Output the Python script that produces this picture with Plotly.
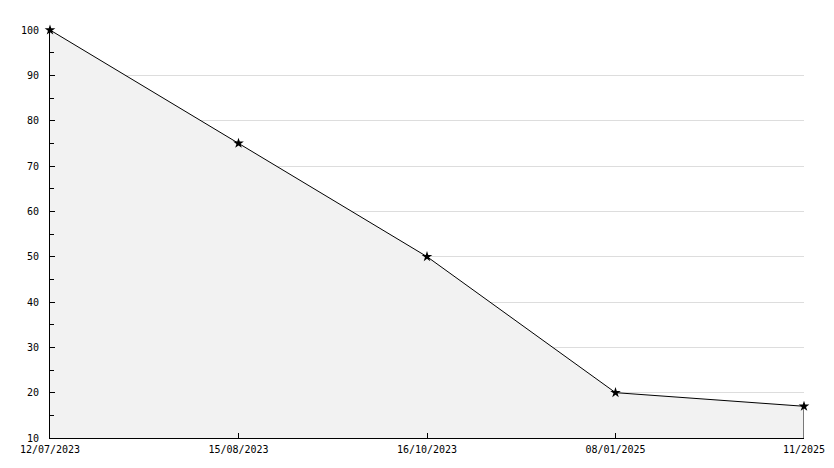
import plotly.graph_objects as go

dates = ["12/07/2023", "15/08/2023", "16/10/2023", "08/01/2025", "11/2025"]
values = [100, 75, 50, 20, 17]
y_min, y_max = 10, 100

fig = go.Figure()
fig.add_trace(go.Scatter(
    x=dates, y=values, mode="lines+markers",
    fill="tozeroy", fillcolor="#f2f2f2",
    line=dict(color="black", width=1),
    marker=dict(symbol="star", size=8, color="black"),
    hoverinfo="x+y", showlegend=False, cliponaxis=False,
))
# right edge outline of the filled area
fig.add_trace(go.Scatter(
    x=[dates[-1], dates[-1]], y=[y_min, values[-1]], mode="lines",
    line=dict(color="black", width=1), hoverinfo="skip", showlegend=False,
    cliponaxis=False,
))

font = dict(family="DejaVu Sans Mono, monospace", size=10, color="black")
fig.update_layout(
    width=834, height=468,
    margin=dict(l=50, r=30, t=30, b=30),
    plot_bgcolor="white", paper_bgcolor="white",
    font=font,
    xaxis=dict(
        type="category", range=[0, len(dates) - 1], automargin=False,
        showgrid=False, showline=True, linecolor="black", linewidth=1,
        ticks="inside", ticklen=5, tickcolor="black", tickfont=font,
        zeroline=False, fixedrange=True, ticklabelstandoff=2,
    ),
    yaxis=dict(
        range=[y_min, y_max], dtick=10, tick0=0, automargin=False,
        showgrid=True, gridcolor="#dddddd", gridwidth=1,
        showline=True, linecolor="black", linewidth=1,
        ticks="inside", ticklen=5, tickcolor="black", tickfont=font,
        minor=dict(ticks="inside", ticklen=4, dtick=5, tickcolor="black", showgrid=False),
        zeroline=False, fixedrange=True, ticklabelstandoff=8,
    ),
)
fig.write_html(
    "out.html",
    config={"displayModeBar": False},
    post_script="document.body.style.margin='0';document.body.style.padding='0';document.body.style.overflow='hidden';",
)
